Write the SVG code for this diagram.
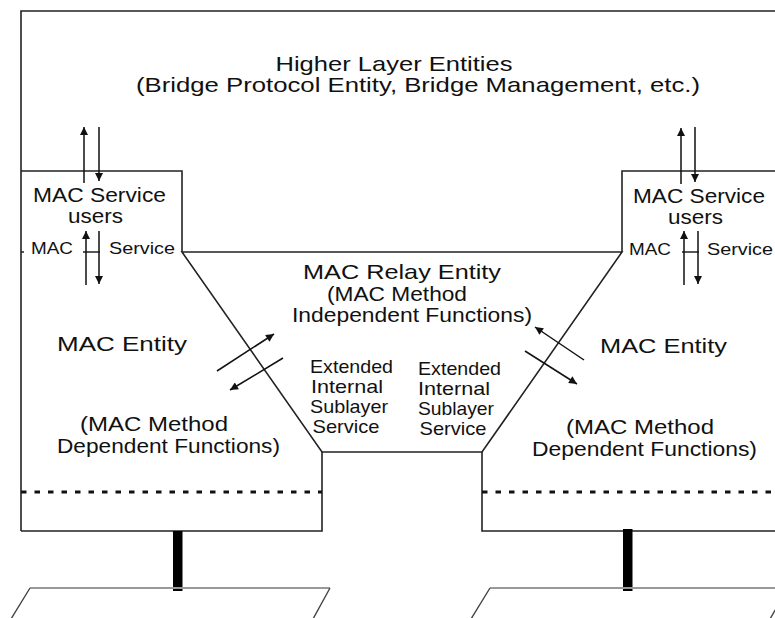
<svg xmlns="http://www.w3.org/2000/svg" width="775" height="618" viewBox="0 0 775 618">
<defs>
<marker id="ah" viewBox="0 0 10 10" refX="10" refY="5" markerUnits="userSpaceOnUse" markerWidth="9" markerHeight="8" orient="auto">
<path d="M0,0 L10,5 L0,10 z" fill="#111"/>
</marker>
</defs>
<style>
.ln{stroke:#222;stroke-width:1.6;fill:none}
.ar{stroke:#111;stroke-width:1.5;fill:none;marker-end:url(#ah)}
.dot{stroke:#111;stroke-width:3;stroke-dasharray:5.5 8;fill:none}
.post{fill:#000}
.pg{stroke:#444;stroke-width:1.4;fill:none}
.pgt{stroke:#999;stroke-width:2.2;fill:none}
text{font-family:"Liberation Sans",Arial,sans-serif;fill:#111;text-anchor:middle}
.h{font-size:21px}
.m{font-size:20px}
.s{font-size:17px}
.e{font-size:19px}
</style>
<rect width="775" height="618" fill="#fff"/>
<g id="higher-layer">
<path class="ln" d="M21,531 L21,11 L776,11"/>
<text class="h" x="394" y="71" textLength="237" lengthAdjust="spacingAndGlyphs">Higher Layer Entities</text>
<text class="h" x="418" y="92" textLength="564" lengthAdjust="spacingAndGlyphs">(Bridge Protocol Entity, Bridge Management, etc.)</text>
</g>
<g id="mac-users-left">
<path class="ln" d="M21,171 L182,171 L182,252"/>
<text class="m" x="99.5" y="202" textLength="133" lengthAdjust="spacingAndGlyphs">MAC Service</text>
<text class="m" x="95.5" y="223" textLength="55" lengthAdjust="spacingAndGlyphs">users</text>
<text class="s" x="52" y="254" textLength="42" lengthAdjust="spacingAndGlyphs">MAC</text>
<text class="s" x="142" y="254" textLength="66" lengthAdjust="spacingAndGlyphs">Service</text>
</g>
<g id="mac-users-right">
<path class="ln" d="M776,171 L622,171 L622,252"/>
<text class="m" x="699" y="203" textLength="132" lengthAdjust="spacingAndGlyphs">MAC Service</text>
<text class="m" x="695.5" y="224" textLength="55" lengthAdjust="spacingAndGlyphs">users</text>
<text class="s" x="650" y="255" textLength="42" lengthAdjust="spacingAndGlyphs">MAC</text>
<text class="s" x="740" y="255" textLength="66" lengthAdjust="spacingAndGlyphs">Service</text>
</g>
<g id="mac-relay">
<path class="ln" d="M182,252 L622,252 L482,452 L322,452 Z"/>
<text class="h" x="402" y="279" textLength="198" lengthAdjust="spacingAndGlyphs">MAC Relay Entity</text>
<text class="m" x="397" y="301" textLength="140" lengthAdjust="spacingAndGlyphs">(MAC Method</text>
<text class="m" x="412" y="322" textLength="240" lengthAdjust="spacingAndGlyphs">Independent Functions)</text>
</g>
<g id="eiss-left">
<text class="e" x="351.5" y="373" textLength="83" lengthAdjust="spacingAndGlyphs">Extended</text>
<text class="e" x="347" y="393" textLength="72" lengthAdjust="spacingAndGlyphs">Internal</text>
<text class="e" x="349" y="413" textLength="78" lengthAdjust="spacingAndGlyphs">Sublayer</text>
<text class="e" x="346" y="433" textLength="67" lengthAdjust="spacingAndGlyphs">Service</text>
</g>
<g id="eiss-right">
<text class="e" x="459.5" y="375" textLength="83" lengthAdjust="spacingAndGlyphs">Extended</text>
<text class="e" x="454" y="395" textLength="72" lengthAdjust="spacingAndGlyphs">Internal</text>
<text class="e" x="456" y="415" textLength="76" lengthAdjust="spacingAndGlyphs">Sublayer</text>
<text class="e" x="453" y="435" textLength="67" lengthAdjust="spacingAndGlyphs">Service</text>
</g>
<g id="mac-entity-left">
<path class="ln" d="M322,452 L322,531 L21,531"/>
<text class="h" x="122" y="351" textLength="130" lengthAdjust="spacingAndGlyphs">MAC Entity</text>
<text class="m" x="154" y="431" textLength="148" lengthAdjust="spacingAndGlyphs">(MAC Method</text>
<text class="m" x="168.5" y="453" textLength="223" lengthAdjust="spacingAndGlyphs">Dependent Functions)</text>
<path class="dot" d="M21,492 L322,492"/>
</g>
<g id="mac-entity-right">
<path class="ln" d="M482,452 L482,531 L776,531"/>
<text class="h" x="663.5" y="353" textLength="127" lengthAdjust="spacingAndGlyphs">MAC Entity</text>
<text class="m" x="640" y="434" textLength="148" lengthAdjust="spacingAndGlyphs">(MAC Method</text>
<text class="m" x="644.5" y="456" textLength="225" lengthAdjust="spacingAndGlyphs">Dependent Functions)</text>
<path class="dot" d="M482,492 L776,492"/>
</g>
<g id="lan-left">
<rect class="post" x="173" y="531" width="9.5" height="60"/>
<path class="pgt" d="M30,588 L330,588"/>
<path class="pg" d="M30,588 L11,619 M330,588 L313,619"/>
</g>
<g id="lan-right">
<rect class="post" x="623" y="529" width="9.5" height="62"/>
<path class="pgt" d="M490,588 L776,588"/>
<path class="pg" d="M490,588 L471,619 M788,588 L770,619"/>
</g>
<g id="connectors">
<path class="ln" d="M21,252 L24,252 M83,252 L100,252 M682,252 L699,252"/>
<path class="ar" d="M84,183 L84,127"/>
<path class="ar" d="M99,127 L99,181"/>
<path class="ar" d="M86,285 L86,231"/>
<path class="ar" d="M99,231 L99,284"/>
<path class="ar" d="M681,184 L681,128"/>
<path class="ar" d="M695,127 L695,182"/>
<path class="ar" d="M684,285 L684,231"/>
<path class="ar" d="M698,231 L698,284"/>
<path class="ar" d="M217,371 L274,334"/>
<path class="ar" d="M283,358 L230,390"/>
<path class="ar" d="M584,360 L535,327"/>
<path class="ar" d="M525,351 L577,384"/>
</g>
</svg>
